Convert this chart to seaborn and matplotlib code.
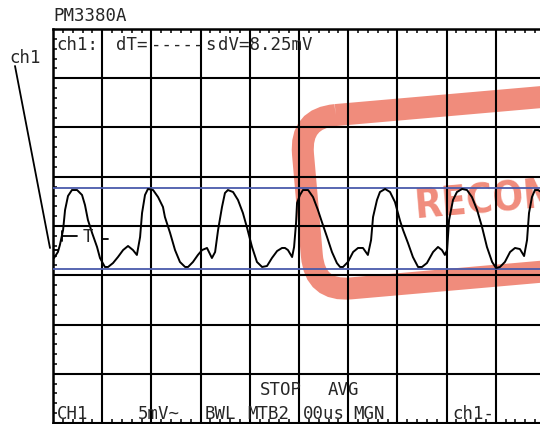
import matplotlib
matplotlib.use("Agg")
import matplotlib.pyplot as plt
import matplotlib.transforms as mtransforms
from matplotlib import font_manager
from matplotlib.font_manager import FontProperties
from matplotlib.patches import FancyBboxPatch
from matplotlib.lines import Line2D
import pandas as pd
import seaborn as sns

# Channel 1 acquisition (time in microseconds, level in millivolts)
time_us = [4, 20, 28, 41, 49, 61, 77, 98, 118, 130, 142, 159, 179, 191, 211, 224,
           244, 264, 285, 305, 325, 341, 354, 362, 374, 386, 407, 427, 447, 455,
           476, 496, 516, 537, 549, 569, 589, 606, 626, 646, 659, 671, 687, 699,
           711, 732, 752, 772, 789, 809, 829, 850, 870, 890, 911, 931, 943, 955,
           972, 980, 988, 992, 1004, 1016, 1037, 1057, 1077, 1093, 1114, 1134,
           1154, 1167, 1179, 1199, 1220, 1240, 1260, 1280, 1293, 1301, 1317,
           1329, 1350, 1370, 1390, 1411, 1423, 1443, 1463, 1484, 1500, 1520,
           1545, 1565, 1581, 1593, 1602, 1610, 1626, 1642, 1663, 1683, 1703,
           1724, 1744, 1764, 1785, 1801, 1817, 1837, 1858, 1878, 1898, 1915,
           1927, 1935, 1947, 1959, 1972, 1984]
level_mv = [-3.25, -2.64, -1.93, -0.41, 1.62, 3.05, 3.65, 3.65, 3.15, 2.13, 0.61,
            -0.71, -2.13, -3.25, -4.16, -4.16, -3.76, -3.15, -2.44, -2.03, -2.44,
            -2.94, -1.12, 1.32, 3.15, 3.76, 3.65, 2.94, 1.93, 0.91, -0.71, -2.44,
            -3.65, -4.16, -4.16, -3.65, -2.94, -2.44, -2.23, -3.25, -2.64, -0.41,
            1.93, 3.35, 3.65, 3.45, 2.64, 1.32, -0.20, -2.13, -3.65, -4.16, -4.06,
            -3.25, -2.54, -2.23, -2.23, -2.44, -3.15, -2.13, 0.30, 2.34, 3.15,
            3.65, 3.65, 2.94, 1.62, 0.41, -1.12, -2.64, -3.76, -4.16, -4.16,
            -3.65, -2.64, -2.23, -2.23, -2.94, -1.42, 0.91, 2.64, 3.45, 3.76,
            3.45, 2.44, 0.51, -0.41, -1.73, -3.15, -4.16, -4.16, -3.76, -2.64,
            -2.13, -2.44, -2.94, -2.44, 0.61, 2.64, 3.45, 3.76, 3.65, 2.94, 1.62,
            -0.10, -2.13, -3.65, -4.26, -4.16, -3.65, -2.64, -2.23, -2.34, -3.05,
            -1.42, 1.32, 2.94, 3.65, 3.65, 3.45]

# Voltage cursors (dV = 8.25 mV)
cursor_mv = [3.85, -4.40]

MV_PER_DIV = 5
US_PER_DIV = 200
N_XDIV, N_YDIV = 10, 8

header_items = [("ch1:", 56), ("dT=", 116), ("-----", 151), ("s", 205),
                ("dV=8.25mV", 218)]
footer_items = [("CH1", 57), ("5mV~", 138), ("BWL", 205), ("MTB2", 247),
                ("00us", 303), ("MGN", 353), ("ch1-", 452)]
status_items = [("STOP", 260), ("AVG", 328)]
stamp_text = "RECOMMENDED"

W, H, DPI = 540, 424, 100
STAMP = "#f08c7c"
CURSOR = "#4a5bab"

sns.set_style("white")
plt.rcParams["font.family"] = ["DejaVu Sans Mono"]


def condensed_bold():
    """Pick a narrow bold face for the stamp lettering, if one is installed."""
    narrow = ("condensed", "semi-condensed", "extra-condensed", "ultra-condensed")
    best, best_rank = None, 99
    for f in font_manager.fontManager.ttflist:
        w = f.weight if isinstance(f.weight, int) else {"bold": 700}.get(f.weight, 400)
        is_narrow = f.stretch in narrow or "Narrow" in f.name or "Condensed" in f.name
        if not is_narrow or w < 600:
            continue
        rank = 0 if "Liberation" in f.name else 1 if "Noto" in f.name else 2
        rank += 0 if f.stretch in ("condensed",) else 0.5
        if rank < best_rank:
            best, best_rank = f.fname, rank
    if best:
        return FontProperties(fname=best, size=29), True
    return FontProperties(family="DejaVu Sans", weight="bold", size=23), False


fig = plt.figure(figsize=(W / DPI, H / DPI), dpi=DPI)
fig.patch.set_facecolor("white")

# graticule: left 53 px, top 29 px, one division = 49.2 px
ax = fig.add_axes([53 / W, 1 - 423 / H, 492 / W, 394 / H])
ax.patch.set_alpha(0)

df = pd.DataFrame({"t": time_us, "v": level_mv})
sns.lineplot(data=df, x="t", y="v", ax=ax, color="black", lw=1.4, zorder=5,
             estimator=None, sort=False)

for c in cursor_mv:
    ax.axhline(c, color=CURSOR, lw=1.3, zorder=4)

ax.set_xlim(0, N_XDIV * US_PER_DIV)
ax.set_ylim(-N_YDIV / 2 * MV_PER_DIV, N_YDIV / 2 * MV_PER_DIV)
ax.set_xticks([i * US_PER_DIV for i in range(N_XDIV + 1)])
ax.set_yticks([(i - N_YDIV / 2) * MV_PER_DIV for i in range(N_YDIV + 1)])
ax.set_xticks([i * US_PER_DIV / 5 for i in range(N_XDIV * 5 + 1)], minor=True)
ax.set_yticks([(i / 5 - N_YDIV / 2) * MV_PER_DIV for i in range(N_YDIV * 5 + 1)], minor=True)
ax.grid(True, which="major", color="black", lw=1.5, zorder=3)
ax.tick_params(which="both", direction="in", top=True, right=True, bottom=True,
               left=True, labelbottom=False, labelleft=False, color="black")
ax.tick_params(which="minor", length=3.2, width=1.1)
ax.tick_params(which="major", length=0)
ax.set_xlabel("")
ax.set_ylabel("")
for s in ax.spines.values():
    s.set_linewidth(1.8)
    s.set_color("black")


def fx(x, y):
    return x / W, 1 - y / H


# instrument labels
fig.text(*fx(53, 21), "PM3380A", fontsize=12.5, va="baseline", ha="left")
fig.text(*fx(9, 63), "ch1", fontsize=12.5, va="baseline", ha="left")
for s, x in header_items:
    fig.text(*fx(x, 50), s, fontsize=12.5, va="baseline", ha="left")
for s, x in footer_items:
    fig.text(*fx(x, 419), s, fontsize=12.5, va="baseline", ha="left")
for s, x in status_items:
    fig.text(*fx(x, 395), s, fontsize=12.5, va="baseline", ha="left")


# channel pointer and trigger marker
def seg(x0, y0, x1, y1, lw=1.3):
    fig.add_artist(Line2D([x0 / W, x1 / W], [1 - y0 / H, 1 - y1 / H],
                          transform=fig.transFigure, color="black", lw=lw, zorder=6))


seg(15, 66, 50, 248)
seg(54, 250, 58, 250)
seg(62, 231, 62, 241)
seg(62, 236, 77, 236)
seg(102, 239, 108, 239)
fig.text(*fx(88, 237), "T", fontsize=12.5, va="center", ha="center", zorder=6)

# stamp overlay, drawn beneath the graticule
stamp_tf = (mtransforms.Affine2D().scale(1, -1).translate(0, H)
            .rotate_deg_around(420, H - 195, 5))
box = FancyBboxPatch((307, 108), 430, 174, boxstyle="round,pad=0,rounding_size=36",
                     fill=False, ec=STAMP, lw=22 * 72 / DPI, transform=stamp_tf,
                     zorder=-5)
fig.add_artist(box)
stamp_font, _ = condensed_bold()
fig.text(*fx(416, 219), stamp_text, fontproperties=stamp_font, color=STAMP,
         rotation=5, rotation_mode="anchor", ha="left", va="baseline", zorder=-4)

fig.savefig("out.png", dpi=DPI)
